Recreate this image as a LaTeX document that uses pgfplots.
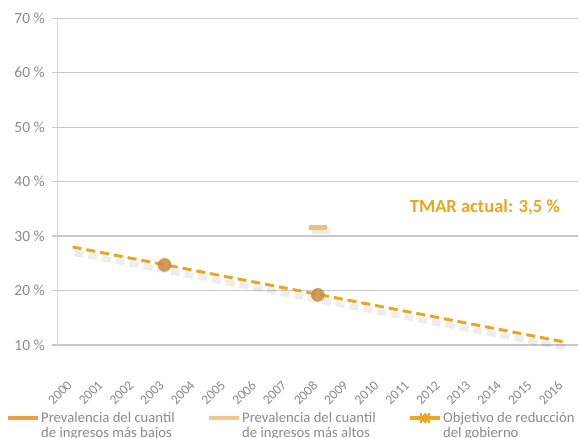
\documentclass[border=0pt]{standalone}
\usepackage{pgfplots}
\pgfplotsset{compat=1.18}
\usepackage{fontspec}
\setmainfont{Carlito}
\definecolor{goldline}{HTML}{E9A61E}
\definecolor{circ}{HTML}{C98A40}
\definecolor{lightor}{HTML}{F0BC80}
\definecolor{leg1}{HTML}{E8A040}
\definecolor{leg2}{HTML}{F2C690}
\definecolor{txtgray}{HTML}{8A8A8A}
\definecolor{gridc}{HTML}{C8C8C8}
\definecolor{axc}{HTML}{D4D4D4}
\pgfplotsset{
  linelegend/.style={legend image code/.code={\draw[line width=4pt] (0pt,0pt) -- (30pt,0pt);}},
  goldlegend/.style={legend image code/.code={\draw[line width=4pt] (0pt,0pt) -- (30pt,0pt); \fill (15pt,0pt) +(-5pt,0pt) -- +(0pt,5pt) -- +(5pt,0pt) -- +(0pt,-5pt) -- cycle; \draw[line width=1.5pt] (11pt,-5pt) -- (11pt,5pt) (19pt,-5pt) -- (19pt,5pt);}},
}
\begin{document}
\begin{tikzpicture}
\useasboundingbox (-57.3pt,-93pt) rectangle (521.7pt,345pt);
\begin{axis}[
  at={(0pt,0pt)}, anchor=south west,
  scale only axis, width=521.1pt, height=326.7pt,
  xmin=-0.5, xmax=16.5, ymin=10, ymax=70,
  axis lines=left, axis line style={-, axc, line width=1.5pt},
  x axis line style={gridc, line width=1.2pt},
  tick align=outside,
  ytick={10,20,...,70},
  yticklabels={10 \%,20 \%,30 \%,40 \%,50 \%,60 \%,70 \%},
  ymajorgrids, grid style={gridc, line width=1.2pt},
  major tick style={gridc, line width=1.2pt},
  minor tick style={gridc, line width=1.2pt},
  major tick length=5pt, minor tick length=5pt,
  xtick={0,...,16},
  xticklabels={2000,2001,2002,2003,2004,2005,2006,2007,2008,2009,2010,2011,2012,2013,2014,2015,2016},
  x tick style={draw=none},
  minor xtick={-0.5,0.5,...,16.5},
  /pgf/number format/assume math mode=true,
  y tick label style={font=\fontsize{15.5}{16}\selectfont, text=txtgray, xshift=-4pt},
  x tick label style={font=\fontsize{13.5}{14}\selectfont, text=txtgray, xshift=-6pt, yshift=-25pt, rotate=45, anchor=north east},
  legend columns=3,
  legend style={draw=none, fill=none, inner sep=0pt,
    at={(axis description cs:-0.0985,-0.2023)}, anchor=north west,
    font=\fontsize{14.7}{15}\selectfont, text=txtgray,
    nodes={inner sep=1pt}},
  legend cell align=left,
  clip=false,
]
% shadow
\addplot[forget plot, black, opacity=0.07, line width=6pt, dash pattern=on 9pt off 5pt, xshift=2pt, yshift=-6pt] coordinates {(0,28.0) (16,10.6)};
\addplot[forget plot, only marks, mark=*, mark size=6.5pt, color=circ, mark options={draw=none, fill=circ, fill opacity=0.85}] coordinates {(3,24.7) (8,19.2)};
\addplot[forget plot, goldline, line width=3pt, dash pattern=on 9pt off 5pt] coordinates {(0,28.0) (16,10.6)};
\addplot[forget plot, only marks, mark=-, mark size=9pt, black, opacity=0.08, line width=5pt, xshift=3pt, yshift=-4pt] coordinates {(8,31.5)};
\addplot[forget plot, only marks, mark=-, mark size=9pt, lightor, line width=5pt] coordinates {(8,31.5)};
\node[font=\fontsize{18.5}{19}\selectfont\bfseries, text=goldline] at (axis cs:13.45,35.3) {TMAR actual: 3,5 \%};
\addlegendimage{leg1, linelegend}
\addlegendentry{\parbox[t]{165pt}{Prevalencia del cuantil\\de ingresos más bajos}}
\addlegendimage{leg2, linelegend}
\addlegendentry{\parbox[t]{165pt}{Prevalencia del cuantil\\de ingresos más altos}}
\addlegendimage{goldline, goldlegend}
\addlegendentry{\parbox[t]{165pt}{Objetivo de reducción\\del gobierno}}
\end{axis}
\end{tikzpicture}
\end{document}
